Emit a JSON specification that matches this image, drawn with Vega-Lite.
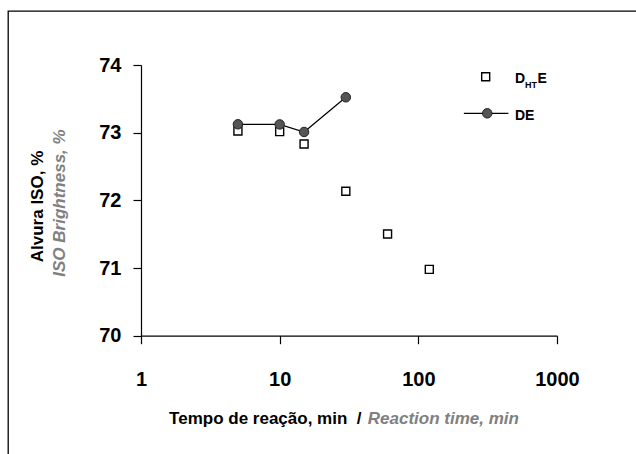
{
  "$schema": "https://vega.github.io/schema/vega-lite/v6.json",
  "width": 628,
  "height": 443,
  "autosize": {"type": "none"},
  "padding": {"left": 8, "top": 11, "right": 0, "bottom": 0},
  "background": "white",
  "config": {
    "view": {"stroke": "black", "strokeWidth": 1.3, "strokeDash": [628, 1071, 443, 10]},
    "font": "Liberation Sans",
    "axis": {
      "grid": false,
      "domainColor": "black",
      "domainWidth": 1.2,
      "tickColor": "black",
      "tickWidth": 1.2,
      "tickSize": 8,
      "labelColor": "black",
      "labelFont": "Liberation Sans",
      "labelFontWeight": "bold",
      "labelFontSize": 20,
      "labelFlush": false,
      "titleFont": "Liberation Sans",
      "titleFontWeight": "bold",
      "titleFontSize": 17,
      "titleColor": "black"
    }
  },
  "datasets": {
    "series": [
      {"s": "DHTE", "t": 5, "v": 73.025},
      {"s": "DHTE", "t": 10, "v": 73.015},
      {"s": "DHTE", "t": 15, "v": 72.833},
      {"s": "DHTE", "t": 30, "v": 72.134},
      {"s": "DHTE", "t": 60, "v": 71.503},
      {"s": "DHTE", "t": 120, "v": 70.98},
      {"s": "DE", "t": 5, "v": 73.124},
      {"s": "DE", "t": 10, "v": 73.122},
      {"s": "DE", "t": 15, "v": 73.01},
      {"s": "DE", "t": 30, "v": 73.523}
    ],
    "legend": [
      {"s": "DHTE", "t": 306, "t1": 306, "t2": 306, "v": 73.827},
      {"s": "DE", "t": 314, "t1": 213, "t2": 446, "v": 73.286}
    ]
  },
  "layer": [
    {
      "data": {"name": "series"},
      "transform": [{"filter": "datum.s === 'DHTE'"}],
      "mark": {"type": "point", "shape": "square", "filled": true, "fill": "white", "stroke": "black", "strokeWidth": 1.4, "size": 64, "opacity": 1},
      "encoding": {
        "x": {"field": "t", "type": "quantitative",
          "scale": {"type": "log", "domain": [1, 1000], "range": [133, 549]},
          "axis": {"orient": "bottom", "offset": -118.3, "values": [1, 10, 100, 1000], "format": "d", "labelPadding": 26,
            "title": "Tempo de reação, min\u00a0\u00a0/", "titleX": 353, "titleY": 87.5, "titleAlign": "right", "titleBaseline": "alphabetic", "titleAnchor": "start"}},
        "y": {"field": "v", "type": "quantitative",
          "scale": {"domain": [70, 74], "range": [324.7, 54], "zero": false, "nice": false},
          "axis": {"orient": "left", "offset": -133, "values": [70, 71, 72, 73, 74], "labelPadding": 12,
            "title": "Alvura ISO, %", "titleX": -98.8, "titleY": 195, "titleAngle": 270, "titleAlign": "center", "titleBaseline": "alphabetic"}}
      }
    },
    {
      "data": {"name": "series"},
      "transform": [{"filter": "datum.s === 'DE'"}],
      "mark": {"type": "line", "color": "black", "strokeWidth": 1.2},
      "encoding": {
        "x": {"field": "t", "type": "quantitative",
          "scale": {"type": "log", "domain": [1, 1000], "range": [133, 549]},
          "axis": {"orient": "bottom", "offset": -118.3, "domain": false, "ticks": false, "labels": false,
            "title": "Reaction time, min", "titleX": 359.3, "titleY": 87.5, "titleAlign": "left", "titleBaseline": "alphabetic",
            "titleColor": "#808080", "titleFontStyle": "italic", "titleAnchor": "start"}},
        "y": {"field": "v", "type": "quantitative",
          "scale": {"domain": [70, 74], "range": [324.7, 54], "zero": false, "nice": false},
          "axis": {"orient": "left", "offset": -133, "domain": false, "ticks": false, "labels": false,
            "title": "ISO Brightness, %", "titleX": -76.5, "titleY": 191.5, "titleAngle": 270, "titleAlign": "center", "titleBaseline": "alphabetic",
            "titleColor": "#808080", "titleFontStyle": "italic"}}
      }
    },
    {
      "data": {"name": "series"},
      "transform": [{"filter": "datum.s === 'DE'"}],
      "mark": {"type": "point", "shape": "circle", "filled": true, "fill": "#555555", "stroke": "#222222", "strokeWidth": 1, "size": 90, "opacity": 1},
      "encoding": {
        "x": {"field": "t", "type": "quantitative", "scale": {"type": "log", "domain": [1, 1000], "range": [133, 549]}, "axis": null},
        "y": {"field": "v", "type": "quantitative", "scale": {"domain": [70, 74], "range": [324.7, 54], "zero": false, "nice": false}, "axis": null}
      }
    },
    {
      "data": {"name": "legend"},
      "transform": [{"filter": "datum.s === 'DE'"}],
      "mark": {"type": "rule", "color": "black", "strokeWidth": 1.2},
      "encoding": {
        "x": {"field": "t1", "type": "quantitative", "scale": {"type": "log", "domain": [1, 1000], "range": [133, 549]}, "axis": null},
        "x2": {"field": "t2"},
        "y": {"field": "v", "type": "quantitative", "scale": {"domain": [70, 74], "range": [324.7, 54], "zero": false, "nice": false}, "axis": null}
      }
    },
    {
      "data": {"name": "legend"},
      "transform": [{"filter": "datum.s === 'DHTE'"}],
      "mark": {"type": "point", "shape": "square", "filled": true, "fill": "white", "stroke": "black", "strokeWidth": 1.4, "size": 64, "opacity": 1},
      "encoding": {
        "x": {"field": "t", "type": "quantitative", "scale": {"type": "log", "domain": [1, 1000], "range": [133, 549]}, "axis": null},
        "y": {"field": "v", "type": "quantitative", "scale": {"domain": [70, 74], "range": [324.7, 54], "zero": false, "nice": false}, "axis": null}
      }
    },
    {
      "data": {"name": "legend"},
      "transform": [{"filter": "datum.s === 'DE'"}],
      "mark": {"type": "point", "shape": "circle", "filled": true, "fill": "#555555", "stroke": "#222222", "strokeWidth": 1, "size": 90, "opacity": 1},
      "encoding": {
        "x": {"field": "t", "type": "quantitative", "scale": {"type": "log", "domain": [1, 1000], "range": [133, 549]}, "axis": null},
        "y": {"field": "v", "type": "quantitative", "scale": {"domain": [70, 74], "range": [324.7, 54], "zero": false, "nice": false}, "axis": null}
      }
    },
    {
      "data": {"name": "legend"},
      "transform": [{"filter": "datum.s === 'DHTE'"}],
      "mark": {"type": "text", "align": "left", "baseline": "alphabetic", "dx": 29.3, "dy": 6.6, "font": "Liberation Sans", "fontWeight": "bold", "fontSize": 14, "color": "black"},
      "encoding": {
        "x": {"field": "t", "type": "quantitative", "scale": {"type": "log", "domain": [1, 1000], "range": [133, 549]}, "axis": null},
        "y": {"field": "v", "type": "quantitative", "scale": {"domain": [70, 74], "range": [324.7, 54], "zero": false, "nice": false}, "axis": null},
        "text": {"value": "D"}
      }
    },
    {
      "data": {"name": "legend"},
      "transform": [{"filter": "datum.s === 'DHTE'"}],
      "mark": {"type": "text", "align": "left", "baseline": "alphabetic", "dx": 39.4, "dy": 11.6, "font": "Liberation Sans", "fontWeight": "bold", "fontSize": 9, "color": "black"},
      "encoding": {
        "x": {"field": "t", "type": "quantitative", "scale": {"type": "log", "domain": [1, 1000], "range": [133, 549]}, "axis": null},
        "y": {"field": "v", "type": "quantitative", "scale": {"domain": [70, 74], "range": [324.7, 54], "zero": false, "nice": false}, "axis": null},
        "text": {"value": "HT"}
      }
    },
    {
      "data": {"name": "legend"},
      "transform": [{"filter": "datum.s === 'DHTE'"}],
      "mark": {"type": "text", "align": "left", "baseline": "alphabetic", "dx": 51.8, "dy": 6.6, "font": "Liberation Sans", "fontWeight": "bold", "fontSize": 14, "color": "black"},
      "encoding": {
        "x": {"field": "t", "type": "quantitative", "scale": {"type": "log", "domain": [1, 1000], "range": [133, 549]}, "axis": null},
        "y": {"field": "v", "type": "quantitative", "scale": {"domain": [70, 74], "range": [324.7, 54], "zero": false, "nice": false}, "axis": null},
        "text": {"value": "E"}
      }
    },
    {
      "data": {"name": "legend"},
      "transform": [{"filter": "datum.s === 'DE'"}],
      "mark": {"type": "text", "align": "left", "baseline": "alphabetic", "dx": 27.7, "dy": 6.7, "font": "Liberation Sans", "fontWeight": "bold", "fontSize": 14, "color": "black"},
      "encoding": {
        "x": {"field": "t", "type": "quantitative", "scale": {"type": "log", "domain": [1, 1000], "range": [133, 549]}, "axis": null},
        "y": {"field": "v", "type": "quantitative", "scale": {"domain": [70, 74], "range": [324.7, 54], "zero": false, "nice": false}, "axis": null},
        "text": {"value": "DE"}
      }
    }
  ],
  "resolve": {"axis": {"x": "independent", "y": "independent"}}
}
